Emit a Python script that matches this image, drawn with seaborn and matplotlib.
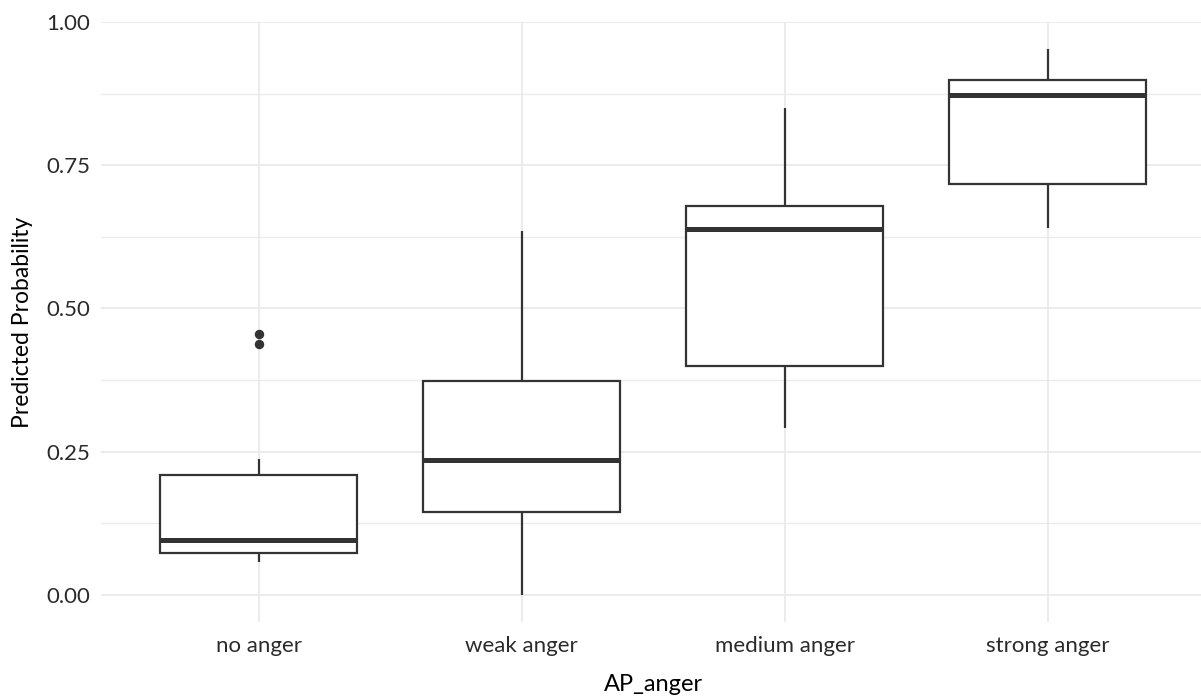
import matplotlib
matplotlib.use("Agg")
import matplotlib.pyplot as plt
import seaborn as sns
import pandas as pd
from matplotlib.ticker import FixedLocator

# ---- data ----
categories = ["no anger", "weak anger", "medium anger", "strong anger"]
no_anger = [0.058, 0.073, 0.073, 0.073, 0.0965, 0.0965, 0.0965,
            0.209, 0.209, 0.209, 0.238, 0.4375, 0.456]
weak_anger = [0.000, 0.145, 0.236, 0.373, 0.636]
medium_anger = [0.291, 0.400, 0.638, 0.678, 0.850]
strong_anger = [0.640, 0.717, 0.873, 0.899, 0.953]
y_ticks = [0.0, 0.25, 0.50, 0.75, 1.00]
y_tick_labels = ["0.00", "0.25", "0.50", "0.75", "1.00"]
y_minor = [0.125, 0.375, 0.625, 0.875]

values = {"no anger": no_anger, "weak anger": weak_anger,
          "medium anger": medium_anger, "strong anger": strong_anger}
df = pd.DataFrame([(c, v) for c in categories for v in values[c]],
                  columns=["AP_anger", "prob"])

sns.set_theme(style="white")
plt.rcParams["font.family"] = ["Lato", "DejaVu Sans"]

W, H = 1201, 696
fig = plt.figure(figsize=(W / 100, H / 100), dpi=100)
ax = fig.add_axes([101 / W, 1 - 622.3 / H, (1205.6 - 101) / W, (622.3 - 21.6) / H])

grid_c = "#EBEBEB"
line_c = "#333333"

sns.boxplot(data=df, x="AP_anger", y="prob", order=categories, ax=ax,
            width=0.75, color="white", linecolor=line_c, linewidth=1.6,
            showcaps=False, whis=1.5,
            medianprops=dict(linewidth=3.6, color=line_c),
            flierprops=dict(marker="o", markerfacecolor=line_c,
                            markeredgecolor=line_c, markersize=5.8))

ax.set_xlim(-0.6, 3.6)
ax.set_ylim(-0.0477, 1.0007)
ax.set_yticks(y_ticks)
ax.set_yticklabels(y_tick_labels)
ax.yaxis.set_minor_locator(FixedLocator(y_minor))

ax.set_axisbelow(True)
ax.grid(True, which="major", axis="both", color=grid_c, linewidth=1.4)
ax.grid(True, which="minor", axis="y", color=grid_c, linewidth=1.0)
for s in ax.spines.values():
    s.set_visible(False)
ax.tick_params(axis="both", which="both", length=0)
ax.tick_params(axis="y", pad=8, labelsize=16, labelcolor="#2b2b2b")
ax.tick_params(axis="x", pad=10, labelsize=16, labelcolor="#2b2b2b")

ax.set_xlabel("AP_anger", fontsize=17, color="black", labelpad=13)
ax.set_ylabel("Predicted Probability", fontsize=16.5, color="black", labelpad=9)

fig.savefig("out.png", dpi=100)
